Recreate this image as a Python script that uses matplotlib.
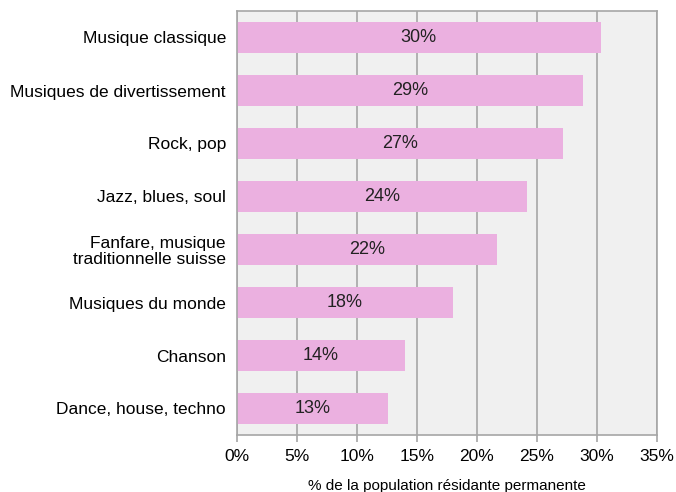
import matplotlib
matplotlib.use("Agg")
import matplotlib.pyplot as plt

categories = [
    "Musique classique",
    "Musiques de divertissement",
    "Rock, pop",
    "Jazz, blues, soul",
    "Fanfare, musique\ntraditionnelle suisse",
    "Musiques du monde",
    "Chanson",
    "Dance, house, techno",
]
values = [30.3, 28.8, 27.2, 24.2, 21.7, 18.0, 14.0, 12.6]
labels = ["30%", "29%", "27%", "24%", "22%", "18%", "14%", "13%"]
xticks = [0, 5, 10, 15, 20, 25, 30, 35]

plt.rcParams["font.family"] = ["Liberation Sans", "DejaVu Sans"]

fig = plt.figure(figsize=(6.76, 4.92), dpi=100)
ax = fig.add_axes([237 / 676, 1 - 435 / 492, 420 / 676, 424 / 492])

ypos = list(range(len(categories)))[::-1]
ax.set_facecolor("#F0F0F0")
ax.barh(ypos, values, height=0.6, color="#EBB0E0", zorder=2)
for y, v, lab in zip(ypos, values, labels):
    ax.text(v / 2, y, lab, ha="center", va="center", fontsize=13,
            color="#222222", zorder=3)

ax.set_xlim(0, 35)
ax.set_ylim(-0.5, len(categories) - 0.5)
ax.set_xticks(xticks)
ax.set_xticklabels([f"{t}%" for t in xticks], fontsize=12.5)
ax.set_yticks(ypos)
ax.set_yticklabels(categories, fontsize=12.5, linespacing=1.05)
ax.xaxis.grid(True, color="#A6A6A6", linewidth=1.2, zorder=1)
ax.tick_params(axis="x", length=5, width=1.2, color="#A6A6A6", pad=5)
ax.tick_params(axis="y", length=0, pad=8)
for s in ax.spines.values():
    s.set_color("#A6A6A6")
    s.set_linewidth(1.2)

ax.set_xlabel("% de la population résidante permanente", fontsize=11, labelpad=11)

fig.savefig("out.png", dpi=100)
